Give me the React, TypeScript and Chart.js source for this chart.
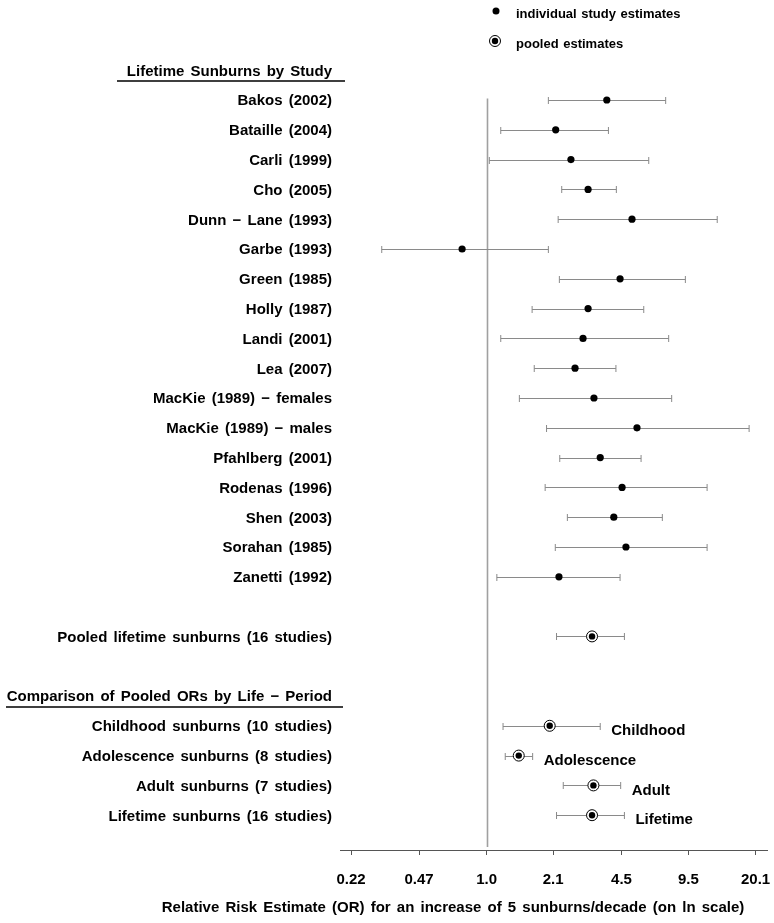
import React, { useEffect, useRef } from "react";
import { Chart, registerables } from "chart.js";
Chart.register(...registerables);

// ---------- data ----------
const studyNames = [
  "Bakos (2002)", "Bataille (2004)", "Carli (1999)", "Cho (2005)", "Dunn \u2212 Lane (1993)",
  "Garbe (1993)", "Green (1985)", "Holly (1987)", "Landi (2001)", "Lea (2007)",
  "MacKie (1989) \u2212 females", "MacKie (1989) \u2212 males", "Pfahlberg (2001)",
  "Rodenas (1996)", "Shen (2003)", "Sorahan (1985)", "Zanetti (1992)",
];
const studyOR = [3.82, 2.16, 2.56, 3.10, 5.06, 0.76, 4.43, 3.10, 2.93, 2.68, 3.31, 5.35, 3.55, 4.53, 4.13, 4.73, 2.24];
const studyLower = [1.99, 1.17, 1.03, 2.31, 2.22, 0.31, 2.25, 1.66, 1.17, 1.70, 1.44, 1.95, 2.26, 1.92, 2.46, 2.15, 1.12];
const studyUpper = [7.37, 3.89, 6.10, 4.25, 13.1, 1.99, 9.18, 5.77, 7.62, 4.23, 7.88, 18.7, 5.60, 11.7, 7.10, 11.7, 4.43];

const pooledNames = ["Pooled lifetime sunburns (16 studies)"];
const pooledOR = [3.24];
const pooledLower = [2.18];
const pooledUpper = [4.65];

const periodNames = [
  "Childhood sunburns (10 studies)", "Adolescence sunburns (8 studies)",
  "Adult sunburns (7 studies)", "Lifetime sunburns (16 studies)",
];
const periodTags = ["Childhood", "Adolescence", "Adult", "Lifetime"];
const periodOR = [2.02, 1.43, 3.29, 3.24];
const periodLower = [1.20, 1.23, 2.35, 2.18];
const periodUpper = [3.55, 1.67, 4.46, 4.65];

const tickLabels = ["0.22", "0.47", "1.0", "2.1", "4.5", "9.5", "20.1"];

const header1 = "Lifetime Sunburns by Study";
const header2 = "Comparison of Pooled ORs by Life \u2212 Period";
const legendLabels = ["individual study estimates", "pooled estimates"];
const xTitle = "Relative Risk Estimate (OR) for an increase of 5 sunburns/decade (on ln scale)";

// ---------- layout ----------
const W = 774;
const H = 923;
const FONT = "'Liberation Sans', Arial, Helvetica, sans-serif";
const X_MIN = -1.637;
const X_MAX = 3.128;
const Y_MIN = -3.356;
const Y_MAX = 25.168;

const nStudies = studyNames.length;
const pooledRow = nStudies + 1;
const header2Row = nStudies + 3;
const periodRow0 = nStudies + 4;

type Row = { row: number; or: number; lo: number; hi: number };

const studyRows: Row[] = studyOR.map((v, i) => ({ row: i, or: v, lo: studyLower[i], hi: studyUpper[i] }));
const pooledRows: Row[] = [
  ...pooledOR.map((v, i) => ({ row: pooledRow + i, or: v, lo: pooledLower[i], hi: pooledUpper[i] })),
  ...periodOR.map((v, i) => ({ row: periodRow0 + i, or: v, lo: periodLower[i], hi: periodUpper[i] })),
];

const drawPlugin = {
  id: "forestDecor",
  beforeDatasetsDraw(chart: any) {
    const { ctx, scales, chartArea } = chart;
    const xs = scales.x;
    const ys = scales.y;
    ctx.save();
    // reference line at OR = 1
    ctx.strokeStyle = "#a0a0a0";
    ctx.lineWidth = 1.6;
    const x1 = Math.round(xs.getPixelForValue(Math.log(1))) + 0.5;
    ctx.beginPath();
    ctx.moveTo(x1, ys.getPixelForValue(-0.05));
    ctx.lineTo(x1, chartArea.bottom - 3);
    ctx.stroke();
    // error bars
    ctx.strokeStyle = "#8a8a8a";
    ctx.lineWidth = 1;
    [...studyRows, ...pooledRows].forEach((r) => {
      const y = Math.round(ys.getPixelForValue(r.row)) + 0.5;
      const a = xs.getPixelForValue(Math.log(r.lo));
      const b = xs.getPixelForValue(Math.log(r.hi));
      ctx.beginPath();
      ctx.moveTo(a, y);
      ctx.lineTo(b, y);
      ctx.moveTo(a, y - 3.5);
      ctx.lineTo(a, y + 3.5);
      ctx.moveTo(b, y - 3.5);
      ctx.lineTo(b, y + 3.5);
      ctx.stroke();
    });
    ctx.restore();
  },
  afterDraw(chart: any) {
    const { ctx, scales } = chart;
    const xs = scales.x;
    const ys = scales.y;
    const dy = 1.2;
    ctx.save();
    ctx.fillStyle = "#000";
    ctx.font = `bold 15px ${FONT}`;
    try { (ctx as any).wordSpacing = "2px"; } catch (e) {}
    ctx.textBaseline = "middle";
    const labelX = 332;
    ctx.textAlign = "right";
    studyNames.forEach((n, i) => ctx.fillText(n, labelX, ys.getPixelForValue(i) + dy));
    pooledNames.forEach((n, i) => ctx.fillText(n, labelX, ys.getPixelForValue(pooledRow + i) + dy));
    periodNames.forEach((n, i) => ctx.fillText(n, labelX, ys.getPixelForValue(periodRow0 + i) + dy));
    // headers
    ctx.fillText(header1, labelX, ys.getPixelForValue(-1) + dy);
    ctx.fillText(header2, labelX, ys.getPixelForValue(header2Row) + dy);
    ctx.strokeStyle = "#000";
    ctx.lineWidth = 1.3;
    ctx.beginPath();
    const u1 = Math.round(ys.getPixelForValue(-1) + 10.5);
    ctx.moveTo(117, u1);
    ctx.lineTo(345, u1);
    const u2 = Math.round(ys.getPixelForValue(header2Row) + 11.5);
    ctx.moveTo(6, u2);
    ctx.lineTo(343, u2);
    ctx.stroke();
    // period tags
    ctx.textAlign = "left";
    periodTags.forEach((t, i) => {
      const x = xs.getPixelForValue(Math.log(periodUpper[i])) + 11;
      ctx.fillText(t, x, ys.getPixelForValue(periodRow0 + i) + 5);
    });
    // axis title
    ctx.textAlign = "center";
    ctx.fillText(xTitle, 453, 908);
    // legend
    ctx.font = `bold 13px ${FONT}`;
    try { (ctx as any).wordSpacing = "1px"; } catch (e) {}
    ctx.textAlign = "left";
    ctx.fillText(legendLabels[0], 516, 14.5);
    ctx.fillText(legendLabels[1], 516, 44);
    ctx.beginPath();
    ctx.arc(496, 11, 3.5, 0, Math.PI * 2);
    ctx.fill();
    ctx.beginPath();
    ctx.arc(495, 41, 5.5, 0, Math.PI * 2);
    ctx.fillStyle = "#fff";
    ctx.fill();
    ctx.strokeStyle = "#000";
    ctx.lineWidth = 1;
    ctx.stroke();
    ctx.fillStyle = "#000";
    ctx.beginPath();
    ctx.arc(495, 41, 3.2, 0, Math.PI * 2);
    ctx.fill();
    ctx.restore();
  },
};

export default function App() {
  const ref = useRef<HTMLCanvasElement | null>(null);
  useEffect(() => {
    if (!ref.current) return;
    const chart = new Chart(ref.current, {
      type: "scatter",
      data: {
        datasets: [
          {
            label: "individual",
            data: studyRows.map((r) => ({ x: Math.log(r.or), y: r.row })),
            pointRadius: 3.6,
            pointBackgroundColor: "#000",
            pointBorderWidth: 0,
            order: 0,
          },
          {
            label: "pooled inner",
            data: pooledRows.map((r) => ({ x: Math.log(r.or), y: r.row })),
            pointRadius: 3.2,
            pointBackgroundColor: "#000",
            pointBorderWidth: 0,
            order: 0,
          },
          {
            label: "pooled ring",
            data: pooledRows.map((r) => ({ x: Math.log(r.or), y: r.row })),
            pointRadius: 5.5,
            pointBackgroundColor: "#fff",
            pointBorderColor: "#000",
            pointBorderWidth: 1,
            order: 1,
          },
        ],
      },
      options: {
        responsive: false,
        animation: false,
        devicePixelRatio: 1,
        layout: { autoPadding: false, padding: { left: 340, right: 7, top: 0, bottom: 0 } },
        plugins: { legend: { display: false }, tooltip: { enabled: false } },
        scales: {
          x: {
            type: "linear",
            min: X_MIN,
            max: X_MAX,
            afterBuildTicks: (s: any) => {
              s.ticks = tickLabels.map((t) => ({ value: Math.log(parseFloat(t)) }));
            },
            afterFit: (s: any) => {
              s.height = H - 850;
              s.paddingLeft = 0;
              s.paddingRight = 0;
            },
            grid: { drawOnChartArea: false, drawTicks: true, tickLength: 5, color: "#555", lineWidth: 1 },
            border: { display: true, color: "#555", width: 1 },
            ticks: {
              callback: (_v: any, i: number) => tickLabels[i],
              font: { family: FONT, size: 15, weight: "bold" },
              color: "#000",
              padding: 16,
              maxRotation: 0,
              autoSkip: false,
            },
          },
          y: {
            type: "linear",
            display: false,
            reverse: true,
            min: Y_MIN,
            max: Y_MAX,
          },
        },
      },
      plugins: [drawPlugin],
    } as any);
    return () => chart.destroy();
  }, []);
  return (
    <div style={{ position: "absolute", left: 0, top: 0, width: W, height: H }}>
      <canvas ref={ref} width={W} height={H} style={{ width: W, height: H, display: "block" }} />
    </div>
  );
}
